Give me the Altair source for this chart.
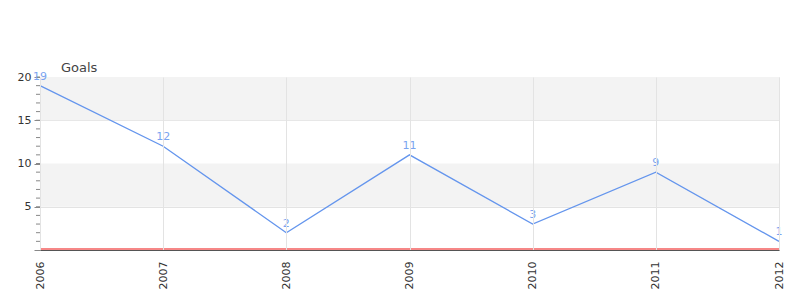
import altair as alt
import pandas as pd

years = [2006, 2007, 2008, 2009, 2010, 2011, 2012]
goals = [19, 12, 2, 11, 3, 9, 1]
band_lo = [15, 5]
band_hi = [20, 10]
major_ticks = [5, 10, 15, 20]
minor_ticks = list(range(1, 21))

df = pd.DataFrame({"year": years, "goals": goals})
bands = pd.DataFrame({"lo": band_lo, "hi": band_hi})
minor = pd.DataFrame({"v": minor_ticks})
zero = pd.DataFrame({"v": [0]})

FONT = "DejaVu Sans"
LINE = "#6495ED"

xs = alt.Scale(domain=[2006, 2012], nice=False, zero=False)
ys = alt.Scale(domain=[0, 20], nice=False)

yaxis = alt.Axis(
    values=[0] + major_ticks, title=None, grid=True, gridColor="#e3e3e3",
    domainColor="#888", tickColor="#888", tickSize=6,
    labelExpr="datum.value == 0 ? '' : datum.label",
    labelColor="#333", labelFont=FONT, labelFontSize=11, labelPadding=3)

xaxis = alt.Axis(
    values=years, format="d", labelAngle=270, title=None,
    grid=True, gridColor="#e3e3e3", domainColor="#555", domainWidth=1,
    tickSize=0, labelColor="#333", labelFont=FONT,
    labelFontSize=11, labelPadding=11, labelFlush=False, zindex=1)

band_layer = alt.Chart(bands).mark_rect(color="#f3f3f3").encode(
    y=alt.Y("hi:Q", scale=ys, axis=yaxis),
    y2="lo:Q",
    x=alt.value(0), x2=alt.value(739),
)

minor_layer = alt.Chart(minor).mark_rule(color="#888", strokeWidth=1).encode(
    y=alt.Y("v:Q", scale=ys),
    x=alt.value(-4), x2=alt.value(0),
)

zero_layer = alt.Chart(zero).mark_rule(color="#ee1111", strokeWidth=1.2, yOffset=-1).encode(
    y=alt.Y("v:Q", scale=ys),
    x=alt.value(0), x2=alt.value(739),
)

base = alt.Chart(df).encode(
    x=alt.X("year:Q", scale=xs, axis=xaxis),
    y=alt.Y("goals:Q", scale=ys),
)

line = base.mark_line(color=LINE, strokeWidth=1.3)
labels = base.mark_text(color="#7aa4f0", font=FONT, fontSize=11, dy=-9).encode(
    text="goals:Q")

chart = alt.layer(band_layer, minor_layer, zero_layer, line, labels).properties(
    width=739, height=173,
    title=alt.TitleParams("Goals", anchor="start", dx=44, offset=-4, fontSize=13,
                          fontWeight="normal", color="#444", font=FONT),
    autosize=alt.AutoSizeParams(type="none"),
    padding={"left": 40, "top": 77, "right": 21, "bottom": 50},
).configure_view(stroke=None)

chart.save("out.html", embed_options={"renderer": "svg", "actions": False})
